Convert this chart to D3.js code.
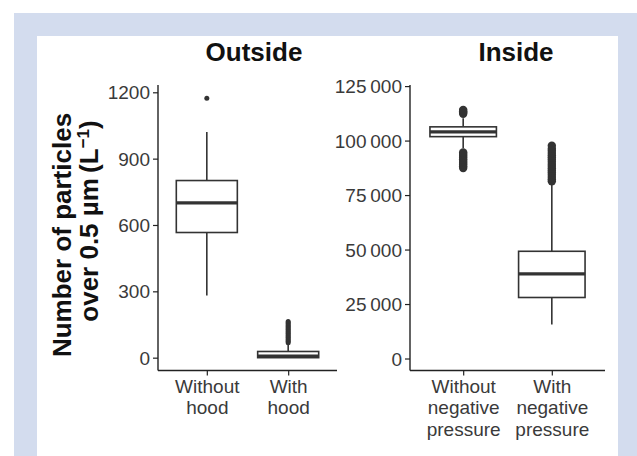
<!DOCTYPE html>
<html>
<head>
<meta charset="utf-8">
<script src="https://cdn.jsdelivr.net/npm/d3@7"></script>
<style>
  body { margin: 0; background: #fff; }
  text { font-family: "Liberation Sans", Arial, Helvetica, sans-serif; }
</style>
</head>
<body>
<svg id="chart" width="637" height="456"></svg>
<script>
var panelTitles = ["Outside", "Inside"];

var outsideCats = ["Without hood", "With hood"];
var outsideLow = [281, 0];
var outsideQ1 = [566, 0];
var outsideMedian = [700, 7];
var outsideQ3 = [801, 28];
var outsideHigh = [1020, 62];
var outsideOutliers = [
  [1173],
  [68, 74, 80, 86, 92, 98, 104, 110, 116, 122, 128, 134, 140, 146, 152, 158, 164]
];
var outsideTicks = [0, 300, 600, 900, 1200];

var insideCats = ["Without negative pressure", "With negative pressure"];
var insideLow = [96500, 15600];
var insideQ1 = [101800, 28000];
var insideMedian = [104000, 38800];
var insideQ3 = [106300, 49200];
var insideHigh = [110300, 80000];
var insideOutliers = [
  [112300, 112900, 113500, 114100, 87400, 88200, 89000, 89800, 90600, 91400, 92200, 93000, 93800, 94500],
  [81300, 82300, 83300, 84300, 85300, 86300, 87300, 88300, 89300, 90300, 91300, 92300, 93300, 94300, 95300, 96300, 97600]
];
var insideTicks = [0, 25000, 50000, 75000, 100000, 125000];

var svg = d3.select("#chart");

// background frame
svg.append("rect").attr("x", 14).attr("y", 13).attr("width", 623).attr("height", 443).attr("fill", "#d3dcee");
svg.append("rect").attr("x", 37).attr("y", 36).attr("width", 581).attr("height", 420).attr("fill", "#fff");

var group3 = d3.formatLocale({decimal: ".", thousands: "\u2009", grouping: [3], currency: ["", ""]}).format(",");
function fmt(d) { return d >= 10000 ? group3(d) : String(d); }

function drawPanel(opt) {
  var x = d3.scalePoint().domain(opt.cats).range([opt.x0, opt.x1]).padding(0.6);
  var y = d3.scaleLinear().domain(opt.yDomain).range([370.5, 85]);
  var bw = x.step() * 0.75;
  var g = svg.append("g");

  g.append("text")
      .attr("x", opt.titleX).attr("y", 61)
      .attr("text-anchor", "middle")
      .style("font-size", "26px").style("font-weight", "bold").attr("fill", "#111")
      .text(opt.title);

  // y axis
  var ya = g.append("g").attr("transform", "translate(" + opt.x0 + ",0)")
      .call(d3.axisLeft(y).tickValues(opt.ticks).tickSize(5).tickPadding(3).tickFormat(fmt));
  ya.select(".domain").attr("d", "M0," + y.range()[0] + "V" + y.range()[1]).attr("stroke", "#222").attr("stroke-width", 1.4);
  ya.selectAll(".tick line").attr("stroke", "#222").attr("stroke-width", 1.2);
  ya.selectAll(".tick text").attr("fill", "#3a3a3a").style("font-size", "19px").attr("dy", "0.35em");

  // x axis
  var xa = g.append("g").attr("transform", "translate(0," + y.range()[0] + ")")
      .call(d3.axisBottom(x).tickSize(5).tickFormat(""));
  xa.select(".domain").attr("d", "M" + opt.x0 + ",0H" + opt.x1).attr("stroke", "#222").attr("stroke-width", 1.4);
  xa.selectAll(".tick line").attr("stroke", "#222").attr("stroke-width", 1.2);
  xa.selectAll(".tick").each(function(d) {
    var t = d3.select(this).append("text")
        .attr("text-anchor", "middle").attr("fill", "#3a3a3a").style("font-size", "19px");
    d.split(" ").forEach(function(w, i) {
      t.append("tspan").attr("x", 0).attr("y", 22 + i * 21.5).text(w);
    });
  });

  // boxes
  opt.cats.forEach(function(c, i) {
    var cx = x(c);
    var b = g.append("g");
    b.append("line").attr("x1", cx).attr("x2", cx)
        .attr("y1", y(opt.high[i])).attr("y2", y(opt.q3[i]))
        .attr("stroke", "#333").attr("stroke-width", 1.6);
    b.append("line").attr("x1", cx).attr("x2", cx)
        .attr("y1", y(opt.q1[i])).attr("y2", y(opt.low[i]))
        .attr("stroke", "#333").attr("stroke-width", 1.6);
    b.append("rect")
        .attr("x", cx - bw / 2).attr("width", bw)
        .attr("y", y(opt.q3[i])).attr("height", Math.max(0, y(opt.q1[i]) - y(opt.q3[i])))
        .attr("fill", "#fff").attr("stroke", "#333").attr("stroke-width", 1.6);
    b.append("line").attr("x1", cx - bw / 2).attr("x2", cx + bw / 2)
        .attr("y1", y(opt.median[i])).attr("y2", y(opt.median[i]))
        .attr("stroke", "#333").attr("stroke-width", 3.2);
    b.selectAll("circle").data(opt.outliers[i]).enter().append("circle")
        .attr("cx", cx).attr("cy", function(d) { return y(d); })
        .attr("r", opt.r).attr("fill", "#333");
  });
}

drawPanel({
  title: panelTitles[0], titleX: 254, cats: outsideCats, x0: 158, x1: 337,
  yDomain: [-58, 1233], ticks: outsideTicks,
  low: outsideLow, q1: outsideQ1, median: outsideMedian, q3: outsideQ3, high: outsideHigh,
  outliers: outsideOutliers, r: 2.5
});

drawPanel({
  title: panelTitles[1], titleX: 516, cats: insideCats, x0: 410, x1: 605,
  yDomain: [-5500, 125500], ticks: insideTicks,
  low: insideLow, q1: insideQ1, median: insideMedian, q3: insideQ3, high: insideHigh,
  outliers: insideOutliers, r: 4.2
});

// y label
var yl = svg.append("text")
    .attr("transform", "rotate(-90)")
    .attr("text-anchor", "middle")
    .style("font-size", "26px").style("font-weight", "bold").attr("fill", "#111");
yl.append("tspan").attr("x", -235).attr("y", 71).text("Number of particles");
yl.append("tspan").attr("x", -221).attr("y", 98).text("over 0.5 \u00b5m\u2009(L");
yl.append("tspan").attr("dy", -9).style("font-size", "17px").text("\u22121");
yl.append("tspan").attr("dy", 9).text(")");
</script>
</body>
</html>
